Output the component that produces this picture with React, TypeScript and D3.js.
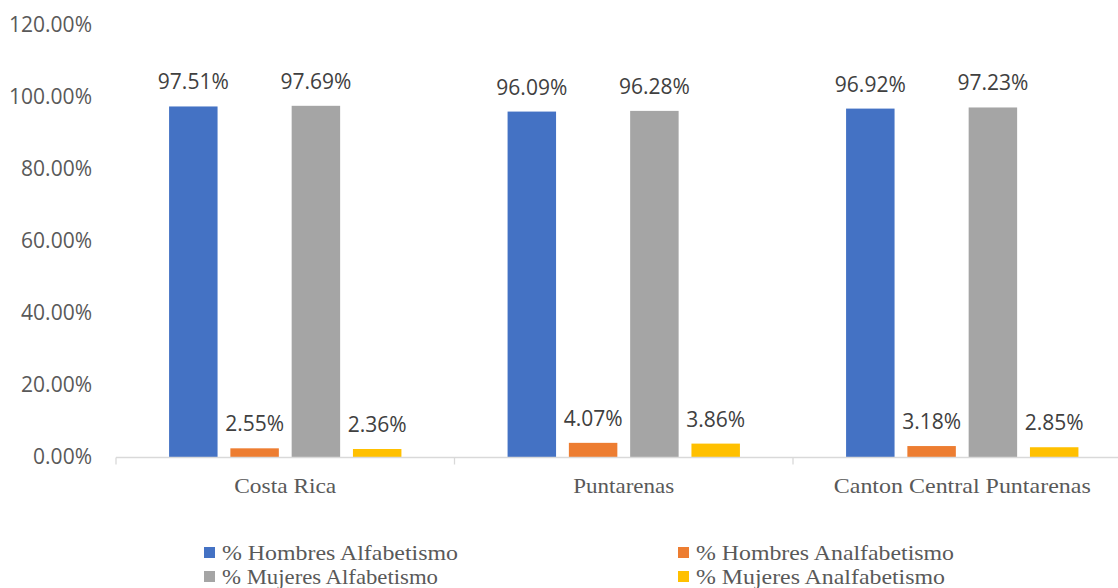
import React from "react";
import * as d3 from "d3";

const categories = ["Costa Rica", "Puntarenas", "Canton Central Puntarenas"];
const categoryWidths = [102, 101, 257];
const seriesNames = [
  "% Hombres Alfabetismo",
  "% Hombres Analfabetismo",
  "% Mujeres Alfabetismo",
  "% Mujeres Analfabetismo",
];
const hombresAlfabetismo = [97.51, 96.09, 96.92];
const hombresAnalfabetismo = [2.55, 4.07, 3.18];
const mujeresAlfabetismo = [97.69, 96.28, 97.23];
const mujeresAnalfabetismo = [2.36, 3.86, 2.85];
const yTicks = [0, 20, 40, 60, 80, 100, 120];
const colors = ["#4472C4", "#ED7D31", "#A5A5A5", "#FFC000"];

const seriesValues = [hombresAlfabetismo, hombresAnalfabetismo, mujeresAlfabetismo, mujeresAnalfabetismo];

const W = 1118;
const H = 588;

export default function App() {
  const x0 = d3.scaleBand<string>().domain(categories).range([116, 1131.5]).paddingInner(0).paddingOuter(0);
  const x1 = d3
    .scaleBand<string>()
    .domain(seriesNames)
    .range([0, x0.bandwidth()])
    .paddingInner(0.209)
    .paddingOuter(0.866);
  const y = d3.scaleLinear().domain([0, 120]).range([457.5, 25.5]);
  const fmt = (v: number) => v.toFixed(2) + "%";

  const legend = [
    { name: seriesNames[0], color: colors[0], x: 204, y: 547, tl: 236 },
    { name: seriesNames[1], color: colors[1], x: 678, y: 547, tl: 258 },
    { name: seriesNames[2], color: colors[2], x: 204, y: 571, tl: 216 },
    { name: seriesNames[3], color: colors[3], x: 678, y: 571, tl: 249 },
  ];

  return (
    <svg
      width={W}
      height={H}
      style={{ position: "absolute", left: 0, top: 0, background: "#fff" }}
    >
      <rect x={0} y={0} width={W} height={H} fill="#fff" />
      {/* y tick labels */}
      {yTicks.map((t) => (
        <text
          key={t}
          x={92}
          y={y(t) + 6}
          textAnchor="end"
          fontFamily="'Open Sans', sans-serif"
          fontSize={21}
          fill="#595959"
        >
          {fmt(t)}
        </text>
      ))}
      {/* bars */}
      {categories.map((c, ci) => (
        <g key={c} transform={`translate(${x0(c)},0)`}>
          {seriesNames.map((s, si) => {
            const v = seriesValues[si][ci];
            const bx = x1(s)!;
            return (
              <g key={s}>
                <rect
                  x={bx}
                  y={y(v)}
                  width={x1.bandwidth()}
                  height={y(0) - y(v)}
                  fill={colors[si]}
                />
                <text
                  x={bx + x1.bandwidth() / 2}
                  y={y(v) - 17}
                  textAnchor="middle"
                  fontFamily="'Open Sans', sans-serif"
                  fontSize={21}
                  fill="#404040"
                >
                  {fmt(v)}
                </text>
              </g>
            );
          })}
        </g>
      ))}
      {/* x axis */}
      <line x1={116} x2={1131.5} y1={y(0)} y2={y(0)} stroke="#D9D9D9" strokeWidth={1.3} />
      {categories.map((c) => (
        <line
          key={c}
          x1={x0(c)!}
          x2={x0(c)!}
          y1={y(0)}
          y2={y(0) + 7}
          stroke="#D9D9D9"
          strokeWidth={1.3}
        />
      ))}
      {categories.map((c, i) => (
        <text
          key={c}
          x={x0(c)! + x0.bandwidth() / 2}
          y={493}
          textAnchor="middle"
          fontFamily="'Liberation Serif', 'Times New Roman', serif"
          fontSize={22}
          fill="#595959"
          textLength={categoryWidths[i]}
          lengthAdjust="spacingAndGlyphs"
        >
          {c}
        </text>
      ))}
      {/* legend */}
      {legend.map((l) => (
        <g key={l.name}>
          <rect x={l.x} y={l.y} width={11} height={11} fill={l.color} />
          <text
            x={l.x + 18}
            y={l.y + 12.5}
            fontFamily="'Liberation Serif', 'Times New Roman', serif"
            fontSize={21}
            fill="#595959"
            textLength={l.tl}
            lengthAdjust="spacingAndGlyphs"
          >
            {l.name}
          </text>
        </g>
      ))}
    </svg>
  );
}
